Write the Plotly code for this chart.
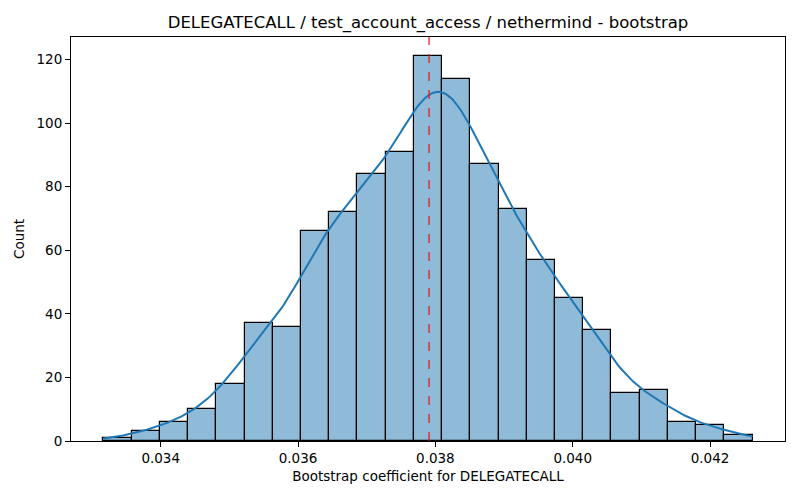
import numpy as np
import plotly.graph_objects as go

# Histogram of 1000 bootstrap coefficients
first_edge = 0.033166
bin_width = 0.000411
counts = [1, 3, 6, 10, 18, 37, 36, 66, 72, 84, 91, 121,
          114, 87, 73, 57, 45, 35, 15, 16, 6, 5, 2]
point_estimate = 0.037908

x_ticks = [0.034, 0.036, 0.038, 0.040, 0.042]
y_ticks = [0, 20, 40, 60, 80, 100, 120]

counts = np.array(counts)
edges = first_edge + bin_width * np.arange(len(counts) + 1)
centers = (edges[:-1] + edges[1:]) / 2

# KDE from the binned data (scott bandwidth, scaled to counts like seaborn)
n = counts.sum()
mean = np.sum(centers * counts) / n
std = np.sqrt(np.sum(counts * (centers - mean) ** 2) / n)
bw = std * n ** (-1 / 5)
grid = np.linspace(edges[0], edges[-1], 300)
dens = np.sum(counts[None, :] * np.exp(-0.5 * ((grid[:, None] - centers[None, :]) / bw) ** 2), axis=1)
dens = dens / (n * bw * np.sqrt(2 * np.pi))
kde_counts = dens * n * bin_width

fig = go.Figure()

fig.add_trace(go.Bar(
    x=centers,
    y=counts,
    width=bin_width,
    marker=dict(color="rgba(31,119,180,0.5)", line=dict(color="black", width=1.2)),
    showlegend=False,
))

fig.add_trace(go.Scatter(
    x=grid,
    y=kde_counts,
    mode="lines",
    line=dict(color="#1f77b4", width=2),
    showlegend=False,
))

span = edges[-1] - edges[0]
ymax = counts.max() * 1.05

fig.add_shape(
    type="line", x0=point_estimate, x1=point_estimate, y0=0, y1=1,
    xref="x", yref="paper",
    line=dict(color="rgb(225,20,20)", width=1.2, dash="dash"),
)

axis_style = dict(
    showline=True, linecolor="black", linewidth=1, mirror=True,
    ticks="outside", ticklen=5, tickcolor="black", tickwidth=1,
    showgrid=False, zeroline=False,
    tickfont=dict(size=13.5, color="black"),
)

# the page adds an 8px body margin, so margins are shifted to compensate
fig.update_layout(
    width=800,
    height=500,
    margin=dict(l=63, r=23, t=29, b=67),
    plot_bgcolor="white",
    paper_bgcolor="white",
    font=dict(family="DejaVu Sans", color="black"),
    bargap=0,
    title=dict(
        text="DELEGATECALL / test_account_access / nethermind - bootstrap",
        xref="paper", x=0.5, xanchor="center", y=0.972, yanchor="middle",
        font=dict(size=16.5, color="black"),
    ),
    xaxis=dict(
        range=[edges[0] - 0.05 * span, edges[-1] + 0.05 * span],
        tickvals=x_ticks,
        ticktext=[f"{v:.3f}" for v in x_ticks],
        title=dict(text="Bootstrap coefficient for DELEGATECALL", font=dict(size=13.5), standoff=6),
        **axis_style,
    ),
    yaxis=dict(
        range=[0, ymax],
        tickvals=y_ticks,
        title=dict(text="Count", font=dict(size=13.5), standoff=8),
        **axis_style,
    ),
)

fig.write_html("out.html")
